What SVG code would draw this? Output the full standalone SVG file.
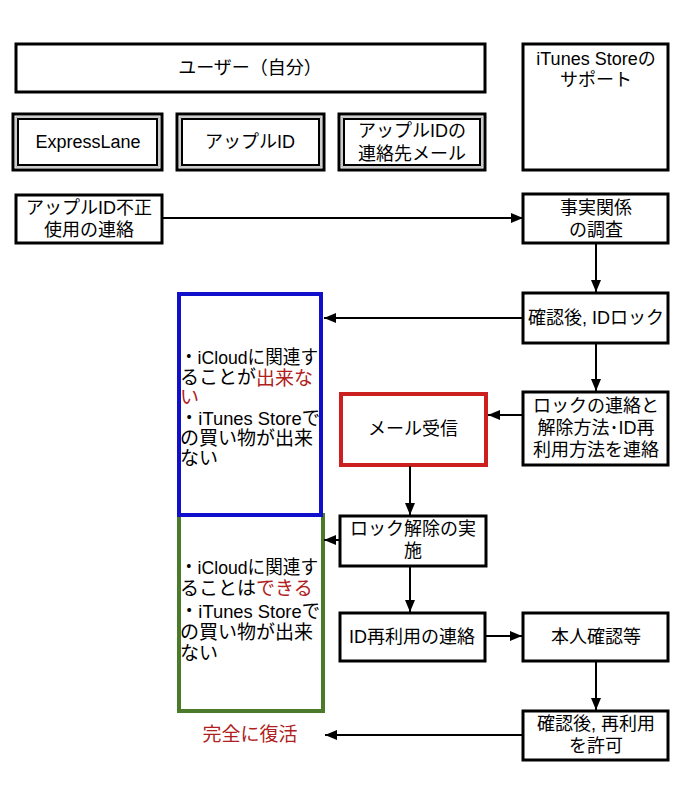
<svg xmlns="http://www.w3.org/2000/svg" width="696" height="800" viewBox="0 0 696 800">
<style>
text{font-family:"Liberation Sans","Noto Sans CJK JP",sans-serif;fill:#000;}
.lb{font-size:18px;text-anchor:middle;dominant-baseline:central;}
.sd{font-size:19px;dominant-baseline:central;}
.red{fill:#b02020;}
.box{fill:#fff;stroke:#000;stroke-width:3;}
.inner{fill:none;stroke:#000;stroke-width:2;}
.gap{fill:none;stroke:#999;stroke-width:1;}
.conn{stroke:#000;stroke-width:2;fill:none;marker-end:url(#ah);}
</style>
<defs>
<marker id="ah" viewBox="0 0 12 10" refX="12" refY="5" markerWidth="12" markerHeight="10" markerUnits="userSpaceOnUse" orient="auto">
<path d="M0,0 L12,5 L0,10 z" fill="#000"/>
</marker>
</defs>
<rect width="696" height="800" fill="#fff"/>

<g id="user">
<rect class="box" x="16" y="44" width="469" height="48"/>
<text class="lb" x="250" y="68">ユーザー（自分）</text>
</g>
<g id="support">
<rect class="box" x="523" y="44" width="145" height="126"/>
<text class="lb" x="596" y="59">iTunes Storeの</text>
<text class="lb" x="596" y="80">サポート</text>
</g>
<g id="expresslane">
<rect class="box" x="13" y="114" width="149" height="56"/>
<rect class="gap" x="16" y="117" width="143" height="50"/>
<rect class="inner" x="18" y="119" width="139" height="46"/>
<text class="lb" x="88" y="142">ExpressLane</text>
</g>
<g id="appleid">
<rect class="box" x="177" y="114" width="147" height="56"/>
<rect class="gap" x="180" y="117" width="141" height="50"/>
<rect class="inner" x="182" y="119" width="137" height="46"/>
<text class="lb" x="250" y="142">アップルID</text>
</g>
<g id="appleid-mail">
<rect class="box" x="339" y="114" width="146" height="56"/>
<rect class="gap" x="342" y="117" width="140" height="50"/>
<rect class="inner" x="344" y="119" width="136" height="46"/>
<text class="lb" x="412" y="131">アップルIDの</text>
<text class="lb" x="412" y="154">連絡先メール</text>
</g>
<g id="report">
<rect class="box" x="16" y="195" width="146" height="48"/>
<text class="lb" x="89" y="208">アップルID不正</text>
<text class="lb" x="89" y="230">使用の連絡</text>
</g>
<g id="investigate">
<rect class="box" x="523" y="194" width="145" height="49"/>
<text class="lb" x="596" y="208">事実関係</text>
<text class="lb" x="596" y="230">の調査</text>
</g>
<g id="idlock">
<rect class="box" x="523" y="293" width="145" height="50"/>
<text class="lb" x="596" y="318">確認後, IDロック</text>
</g>
<g id="locked-state">
<rect x="179" y="294" width="142" height="221" fill="#fff" stroke="#1010cc" stroke-width="4"/>
<text class="sd" x="180" y="357" textLength="138" lengthAdjust="spacingAndGlyphs">・iCloudに関連す</text>
<text class="sd" x="180" y="377.5">ることが<tspan class="red">出来な</tspan></text>
<text class="sd red" x="180" y="397">い</text>
<text class="sd" x="180" y="418" textLength="140" lengthAdjust="spacingAndGlyphs">・iTunes Storeで</text>
<text class="sd" x="180" y="438">の買い物が出来</text>
<text class="sd" x="180" y="458">ない</text>
</g>
<g id="unlocked-state">
<rect x="179" y="515" width="144" height="196" fill="#fff" stroke="#4b7a2b" stroke-width="4"/>
<rect x="177" y="513" width="146" height="4" fill="#1010cc"/>
<text class="sd" x="180" y="567" textLength="138" lengthAdjust="spacingAndGlyphs">・iCloudに関連す</text>
<text class="sd" x="180" y="588">ることは<tspan class="red">できる</tspan></text>
<text class="sd" x="180" y="611" textLength="140" lengthAdjust="spacingAndGlyphs">・iTunes Storeで</text>
<text class="sd" x="180" y="632">の買い物が出来</text>
<text class="sd" x="180" y="653">ない</text>
</g>
<g id="lock-notice">
<rect class="box" x="523" y="392" width="145" height="73"/>
<text class="lb" x="596" y="406">ロックの連絡と</text>
<text class="lb" x="596" y="428">解除方法･ID再</text>
<text class="lb" x="596" y="450">利用方法を連絡</text>
</g>
<g id="mail-receive">
<rect x="341" y="394" width="145" height="71" fill="#fff" stroke="#cc1f1f" stroke-width="4"/>
<text class="lb" x="413" y="429">メール受信</text>
</g>
<g id="unlock">
<rect class="box" x="340" y="516" width="146" height="50"/>
<text class="lb" x="413" y="529">ロック解除の実</text>
<text class="lb" x="413" y="551">施</text>
</g>
<g id="reuse-notice">
<rect class="box" x="340" y="613" width="145" height="48"/>
<text class="lb" x="412" y="637">ID再利用の連絡</text>
</g>
<g id="identity">
<rect class="box" x="523" y="613" width="145" height="48"/>
<text class="lb" x="596" y="637">本人確認等</text>
</g>
<g id="permit">
<rect class="box" x="523" y="711" width="145" height="49"/>
<text class="lb" x="596" y="724">確認後, 再利用</text>
<text class="lb" x="596" y="746">を許可</text>
</g>
<g id="restored">
<text class="lb red" x="250" y="734" style="font-size:19px">完全に復活</text>
</g>

<g id="connectors">
<line class="conn" x1="162" y1="218" x2="523" y2="218"/>
<line class="conn" x1="596" y1="243" x2="596" y2="292"/>
<line class="conn" x1="523" y1="318" x2="324" y2="318"/>
<line class="conn" x1="596" y1="343" x2="596" y2="391"/>
<line class="conn" x1="523" y1="415" x2="488" y2="415"/>
<line class="conn" x1="410" y1="466" x2="410" y2="515"/>
<line class="conn" x1="340" y1="540" x2="324" y2="540"/>
<line class="conn" x1="410" y1="566" x2="410" y2="612"/>
<line class="conn" x1="485" y1="636" x2="522" y2="636"/>
<line class="conn" x1="596" y1="661" x2="596" y2="710"/>
<line class="conn" x1="523" y1="735" x2="325" y2="735"/>
</g>
</svg>
